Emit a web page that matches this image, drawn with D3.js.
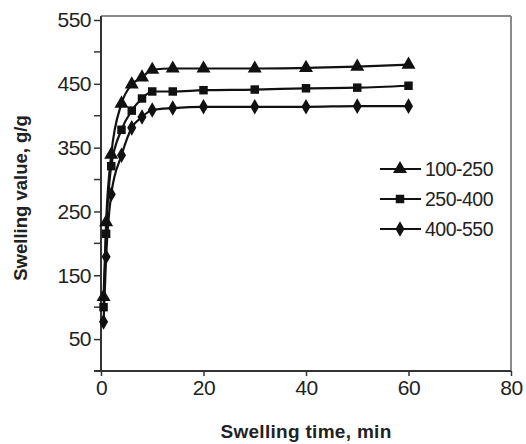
<!DOCTYPE html>
<html>
<head>
<meta charset="utf-8">
<script src="https://cdn.jsdelivr.net/npm/d3@7"></script>
<style>
  body { margin: 0; background: #fff; }
  text { font-family: Tahoma, "Liberation Sans", Arial, sans-serif; fill: #222; }
</style>
</head>
<body>
<div id="chart"></div>
<script>
// swelling data
const times = [0.5, 1, 2, 4, 6, 8, 10, 14, 20, 30, 40, 50, 60];
const s100_250 = [116, 233, 339, 419, 449, 460, 472, 474, 474, 474, 475, 477, 480];
const s250_400 = [100, 215, 321, 378, 408, 427, 438, 438, 440, 441, 443, 444, 447];
const s400_550 = [77, 179, 277, 338, 381, 398, 409, 412, 414, 414, 414, 415, 415];
const seriesNames = ["100-250", "250-400", "400-550"];
const seriesMarks = ["triangle", "square", "diamond"];
const xTicks = [0, 20, 40, 60, 80];
const yLabelTicks = [50, 150, 250, 350, 450, 550];
const yMinorTicks = [0, 100, 200, 300, 400, 500];

const width = 526;
const height = 444;

const svg = d3.select("#chart").append("svg")
  .attr("width", width)
  .attr("height", height);

var x = d3.scaleLinear().domain([0, 80]).range([101, 511]);
var y = d3.scaleLinear().domain([0, 550]).range([371, 20]);

// frame (top and right are lighter)
svg.append("line").attr("x1", 101).attr("x2", 511).attr("y1", 16).attr("y2", 16)
  .attr("stroke", "#8a8a8a").attr("stroke-width", 2);
svg.append("line").attr("x1", 511).attr("x2", 511).attr("y1", 16).attr("y2", 371)
  .attr("stroke", "#8a8a8a").attr("stroke-width", 2);

// y axis
var yAxis = d3.axisLeft(y).tickValues(yLabelTicks).tickSize(7).tickPadding(3);
var gy = svg.append("g").attr("transform", "translate(101,0)").call(yAxis);
gy.select(".domain").attr("d", "M0,16V371").attr("stroke", "#333").attr("stroke-width", 2);
gy.selectAll(".tick line").attr("stroke", "#333").attr("stroke-width", 1.5);
gy.selectAll(".tick text").style("font-size", "21px").attr("fill", "#222")
  .attr("letter-spacing", "-0.5px");

svg.append("g").selectAll("line")
  .data(yMinorTicks)
  .enter()
  .append("line")
  .attr("x1", 94).attr("x2", 101)
  .attr("y1", d => y(d)).attr("y2", d => y(d))
  .attr("stroke", "#333").attr("stroke-width", 1.5);

// x axis
var xAxis = d3.axisBottom(x).tickValues(xTicks).tickSize(5).tickPadding(4);
var gx = svg.append("g").attr("transform", "translate(0,371)").call(xAxis);
gx.select(".domain").attr("d", "M94,0H511").attr("stroke", "#333").attr("stroke-width", 2);
gx.selectAll(".tick line").attr("stroke", "#333").attr("stroke-width", 1.5);
gx.selectAll(".tick text").style("font-size", "21px").attr("fill", "#222")
  .attr("letter-spacing", "-0.5px");

// axis titles
svg.append("text")
  .attr("x", 306).attr("y", 438)
  .attr("text-anchor", "middle")
  .style("font-family", "'Liberation Sans', Arial, sans-serif")
  .style("font-size", "19px").style("font-weight", "bold")
  .attr("letter-spacing", "0.3px")
  .text("Swelling time, min");

svg.append("text")
  .attr("transform", "translate(27,198) rotate(-90)")
  .attr("text-anchor", "middle")
  .style("font-family", "'Liberation Sans', Arial, sans-serif")
  .style("font-size", "18.5px").style("font-weight", "bold")
  .text("Swelling value, g/g");

// series
const allSeries = [s100_250, s250_400, s400_550];

var symbolFor = {
  triangle: d3.symbol().type(d3.symbolTriangle).size(85),
  square: d3.symbol().type(d3.symbolSquare).size(72),
  diamond: d3.symbol().type(d3.symbolDiamond).size(70)
};

var line = d3.line()
  .x(d => x(d[0]))
  .y(d => y(d[1]))
  .curve(d3.curveMonotoneX);

allSeries.forEach(function(vals, i) {
  let pts = times.map((t, j) => [t, vals[j]]);
  svg.append("path")
    .datum(pts)
    .attr("d", line)
    .attr("fill", "none")
    .attr("stroke", "#111")
    .attr("stroke-width", 2.2);
  svg.append("g").selectAll("path")
    .data(pts)
    .enter()
    .append("path")
    .attr("d", symbolFor[seriesMarks[i]])
    .attr("transform", d => "translate(" + x(d[0]) + "," + y(d[1]) + ")")
    .attr("fill", "#111");
});

// legend
var legend = svg.append("g").selectAll("g")
  .data(seriesNames)
  .enter()
  .append("g")
  .attr("transform", (d, i) => "translate(380," + (169 + i * 30) + ")");

legend.append("line")
  .attr("x1", 0).attr("x2", 41)
  .attr("stroke", "#111").attr("stroke-width", 2.2);
legend.append("path")
  .attr("d", (d, i) => symbolFor[seriesMarks[i]]())
  .attr("transform", "translate(20,0)")
  .attr("fill", "#111");
legend.append("text")
  .attr("x", 45).attr("y", 0).attr("dy", "0.35em")
  .style("font-size", "19.5px")
  .attr("letter-spacing", "-0.5px")
  .text(d => d);
</script>
</body>
</html>
